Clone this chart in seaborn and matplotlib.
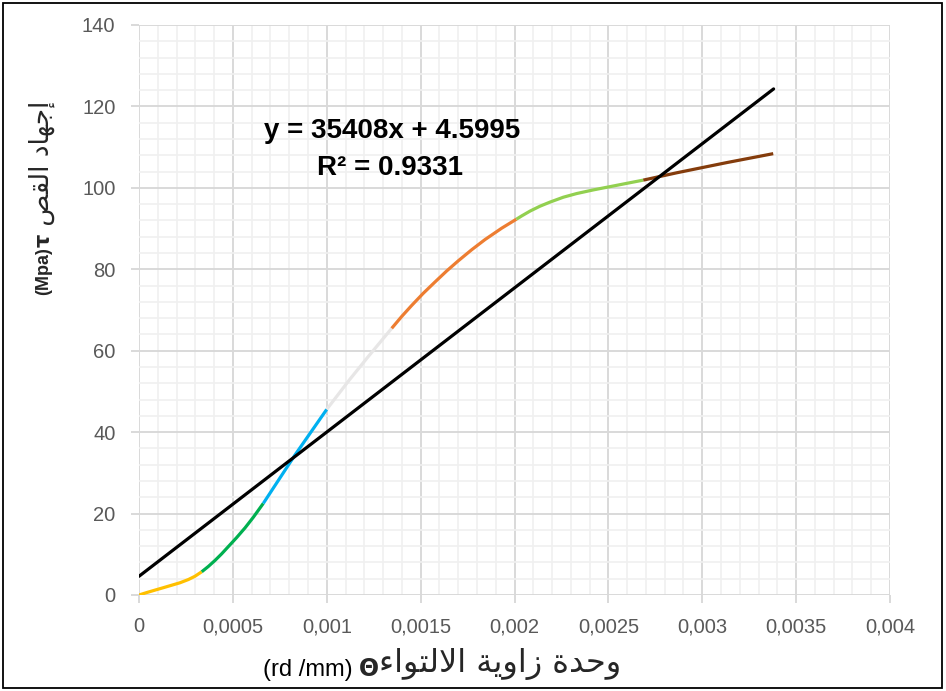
import matplotlib
matplotlib.use("Agg")
import matplotlib.pyplot as plt
import seaborn as sns
import pandas as pd
from matplotlib.ticker import FixedLocator, FixedFormatter, MultipleLocator
from matplotlib.patches import Rectangle

# ---- data ----
yellow_x = [0.0, 0.000041, 0.0000852, 0.00013, 0.000174, 0.000218, 0.000263, 0.000298, 0.000334]
yellow_y = [0.0, 0.6, 1.2, 1.8, 2.4, 3.0, 3.8, 4.6, 5.7]
green_x = [0.000334, 0.000369, 0.000405, 0.00044, 0.000476, 0.00052, 0.000565, 0.000609, 0.000662]
green_y = [5.7, 7.0, 8.5, 10.1, 11.9, 14.1, 16.5, 19.1, 22.5]
cyan_x = [0.000662, 0.000831, 0.0010]
cyan_y = [22.5, 34.4, 45.6]
grey_x = [0.0010, 0.00112, 0.00122, 0.001346]
grey_y = [45.6, 52.8, 58.5, 65.5]
orange_x = [0.001346, 0.001399, 0.001452, 0.001514, 0.001577, 0.001639,
            0.001701, 0.001772, 0.001843, 0.001932, 0.00201]
orange_y = [65.5, 68.4, 71.1, 74.1, 76.9, 79.6, 82.1, 84.8, 87.3, 90.1, 92.3]
lgreen_x = [0.00201, 0.002038, 0.002083, 0.002136, 0.002189, 0.00226,
            0.002331, 0.00242, 0.002509, 0.002597, 0.002686]
lgreen_y = [92.3, 93.1, 94.3, 95.5, 96.5, 97.7, 98.6, 99.5, 100.3, 101.1, 101.9]
brown_x = [0.002686, 0.002864, 0.00313, 0.003378]
brown_y = [101.9, 103.7, 106.2, 108.4]
trend_x = [0.0, 0.00338]
trend_y = [4.6, 124.3]

x_ticks = [0, 0.0005, 0.001, 0.0015, 0.002, 0.0025, 0.003, 0.0035, 0.004]
x_tick_labels = ["0", "0,0005", "0,001", "0,0015", "0,002", "0,0025", "0,003", "0,0035", "0,004"]
y_ticks = [0, 20, 40, 60, 80, 100, 120, 140]
y_tick_labels = ["0", "20", "40", "60", "80", "100", "120", "140"]

eq_line1 = "y = 35408x + 4.5995"
eq_line2 = "R\u00b2 = 0.9331"

# Arabic text, shaped into presentation forms (logical order), then reversed for display
x_ar_logical = "\uFEED\uFEA3\uFEAA\uFE93 \uFEAF\uFE8D\uFEED\uFEF3\uFE94 \uFE8D\uFEFB\uFEDF\uFE98\uFEEE\uFE8D\uFE80"
y_ar_logical = "\uFE87\uFE9F\uFEEC\uFE8E\uFEA9 \uFE8D\uFEDF\uFED8\uFEBA"
x_ar = x_ar_logical[::-1]
y_ar = y_ar_logical[::-1]
x_label_unit = "(rd /mm) "
x_label_sym = "\u0398"
y_label_unit = "(Mpa)"
y_label_sym = "\u03c4"

segments = [
    (yellow_x, yellow_y, "#FFC000"),
    (green_x, green_y, "#00B050"),
    (cyan_x, cyan_y, "#00B0F0"),
    (grey_x, grey_y, "#E7E6E6"),
    (orange_x, orange_y, "#ED7D31"),
    (lgreen_x, lgreen_y, "#92D050"),
    (brown_x, brown_y, "#843C0C"),
]

sns.set_theme(style="white")
plt.rcParams["font.family"] = ["Liberation Sans", "DejaVu Sans"]

fig = plt.figure(figsize=(9.46, 6.91), dpi=100)
ax = fig.add_axes([139 / 946, 1 - 595 / 691, (890 - 139) / 946, (595 - 25) / 691])

for xs, ys, col in segments:
    df = pd.DataFrame({"x": xs, "y": ys})
    sns.lineplot(data=df, x="x", y="y", ax=ax, color=col, linewidth=2.3,
                 sort=False, estimator=None, solid_capstyle="butt",
                 solid_joinstyle="round")

df_t = pd.DataFrame({"x": trend_x, "y": trend_y})
sns.lineplot(data=df_t, x="x", y="y", ax=ax, color="black", linewidth=2.3,
             sort=False, estimator=None, solid_capstyle="round", zorder=5)

ax.set_xlim(0, 0.004)
ax.set_ylim(0, 140)
ax.xaxis.set_major_locator(FixedLocator(x_ticks))
ax.xaxis.set_major_formatter(FixedFormatter(x_tick_labels))
ax.yaxis.set_major_locator(FixedLocator(y_ticks))
ax.yaxis.set_major_formatter(FixedFormatter(y_tick_labels))
ax.xaxis.set_minor_locator(MultipleLocator(0.0001))
ax.yaxis.set_minor_locator(MultipleLocator(4))

ax.grid(which="major", color="#D9D9D9", linewidth=1.4)
ax.grid(which="minor", color="#F0F0F0", linewidth=1.2)
ax.set_axisbelow(True)
for s in ax.spines.values():
    s.set_visible(False)

ax.tick_params(axis="both", which="major", labelsize=14.5, labelcolor="#595959",
               color="#D9D9D9", length=6, width=1.4, direction="out")
ax.tick_params(axis="x", which="major", bottom=True, pad=10)
ax.tick_params(axis="y", which="major", left=True, pad=11)
ax.tick_params(axis="both", which="minor", length=0)
ax.set_xlabel("")
ax.set_ylabel("")

# equation text
fig.text(392 / 946, 1 - 131 / 691, eq_line1, ha="center", va="center",
         fontsize=20, fontweight="bold", color="black")
fig.text(390 / 946, 1 - 168 / 691, eq_line2, ha="center", va="center",
         fontsize=20, fontweight="bold", color="black")

# x label (pieces chained left -> right)
lat_family = ["Liberation Sans", "DejaVu Sans"]
ar_family = ["DejaVu Sans"]
t1 = fig.text(263 / 946, 1 - 681 / 691, x_label_unit, ha="left", va="bottom",
              fontsize=17, family=lat_family, color="black")
t2 = ax.annotate(x_label_sym, xy=(1, 0), xycoords=t1, ha="left", va="bottom",
                 fontsize=17, fontweight="bold", family=ar_family,
                 annotation_clip=False)
t3 = ax.annotate(x_ar, xy=(1, 0), xycoords=t2, xytext=(0, 1),
                 textcoords="offset pixels", ha="left", va="bottom",
                 fontsize=23, family=ar_family, annotation_clip=False)

# y label (pieces chained bottom -> top)
u1 = fig.text(44 / 946, 1 - 295 / 691, y_label_unit, rotation=90, ha="center",
              va="bottom", fontsize=13, fontweight="bold", family=lat_family)
u2 = ax.annotate(y_label_sym, xy=(0.5, 1), xycoords=u1, rotation=90, ha="center",
                 va="bottom", fontsize=15, fontweight="bold", family=ar_family,
                 annotation_clip=False)
u3 = ax.annotate(" " + y_ar, xy=(0.5, 1), xycoords=u2, xytext=(-2, 0),
                 textcoords="offset pixels", rotation=90, ha="center",
                 va="bottom", fontsize=19, family=ar_family, annotation_clip=False)

# outer border
fig.patches.append(Rectangle((3 / 946, 3 / 691), 939 / 946, 685 / 691,
                             transform=fig.transFigure, fill=False,
                             edgecolor="black", linewidth=1.3))

fig.savefig("out.png", dpi=100)
